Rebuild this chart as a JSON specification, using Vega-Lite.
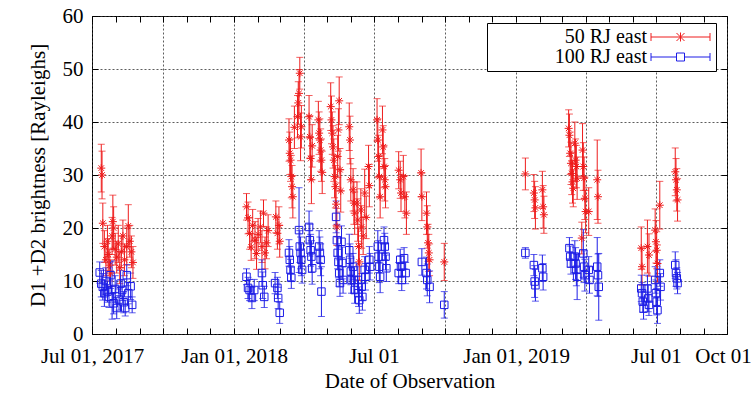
{
 "$schema": "https://vega.github.io/schema/vega-lite/v6.json",
 "width": 635,
 "height": 318,
 "autosize": {"type": "none"},
 "padding": {"left": 92, "top": 16, "right": 27, "bottom": 67},
 "background": "white",
 "config": {
  "view": {"stroke": "#000", "strokeWidth": 1},
  "font": "Liberation Serif",
  "axis": {"labelFont": "Liberation Serif", "titleFont": "Liberation Serif", "labelFontSize": 21, "titleFontSize": 21, "titleFontWeight": "normal", "labelColor": "#000", "titleColor": "#000", "domain": false, "tickColor": "#000", "tickSize": -6, "tickWidth": 1, "gridColor": "#333", "gridDash": [2, 2], "gridWidth": 0.8, "labelOverlap": false, "labelFlush": false, "labelBound": false}
 },
 "data": {"values": [
  {"series":"50 RJ east","d":"2017-07-13","v":31.3,"e":4.5},
  {"series":"50 RJ east","d":"2017-07-14","v":30.0,"e":4.5},
  {"series":"50 RJ east","d":"2017-07-15","v":20.9,"e":3.8},
  {"series":"50 RJ east","d":"2017-07-17","v":16.5,"e":3},
  {"series":"50 RJ east","d":"2017-07-19","v":14.0,"e":3},
  {"series":"50 RJ east","d":"2017-07-21","v":17.5,"e":3},
  {"series":"50 RJ east","d":"2017-07-22","v":15.0,"e":3},
  {"series":"50 RJ east","d":"2017-07-24","v":13.0,"e":3},
  {"series":"50 RJ east","d":"2017-07-25","v":11.5,"e":2.5},
  {"series":"50 RJ east","d":"2017-07-27","v":18.5,"e":3.5},
  {"series":"50 RJ east","d":"2017-07-28","v":21.2,"e":5},
  {"series":"50 RJ east","d":"2017-07-29","v":20.0,"e":4},
  {"series":"50 RJ east","d":"2017-07-31","v":16.0,"e":3},
  {"series":"50 RJ east","d":"2017-08-02","v":14.5,"e":3},
  {"series":"50 RJ east","d":"2017-08-04","v":17.0,"e":3.5},
  {"series":"50 RJ east","d":"2017-08-06","v":12.5,"e":3},
  {"series":"50 RJ east","d":"2017-08-08","v":15.5,"e":3},
  {"series":"50 RJ east","d":"2017-08-10","v":18.5,"e":3},
  {"series":"50 RJ east","d":"2017-08-12","v":14.0,"e":3},
  {"series":"50 RJ east","d":"2017-08-15","v":16.5,"e":3.5},
  {"series":"50 RJ east","d":"2017-08-17","v":20.4,"e":4},
  {"series":"50 RJ east","d":"2017-08-19","v":17.5,"e":3},
  {"series":"50 RJ east","d":"2017-08-21","v":15.5,"e":3},
  {"series":"50 RJ east","d":"2017-08-23","v":13.5,"e":3},
  {"series":"50 RJ east","d":"2018-01-17","v":24.0,"e":2.5},
  {"series":"50 RJ east","d":"2018-01-19","v":21.9,"e":3},
  {"series":"50 RJ east","d":"2018-01-21","v":19.0,"e":3},
  {"series":"50 RJ east","d":"2018-01-23","v":16.4,"e":2.5},
  {"series":"50 RJ east","d":"2018-01-25","v":20.5,"e":3},
  {"series":"50 RJ east","d":"2018-01-28","v":17.7,"e":3.5},
  {"series":"50 RJ east","d":"2018-01-30","v":15.2,"e":3},
  {"series":"50 RJ east","d":"2018-02-01","v":18.8,"e":3},
  {"series":"50 RJ east","d":"2018-02-04","v":20.2,"e":3},
  {"series":"50 RJ east","d":"2018-02-06","v":16.5,"e":3},
  {"series":"50 RJ east","d":"2018-02-08","v":22.8,"e":2.5},
  {"series":"50 RJ east","d":"2018-02-10","v":15.3,"e":3},
  {"series":"50 RJ east","d":"2018-02-12","v":17.2,"e":3},
  {"series":"50 RJ east","d":"2018-02-14","v":19.5,"e":3},
  {"series":"50 RJ east","d":"2018-02-24","v":22.1,"e":3},
  {"series":"50 RJ east","d":"2018-02-26","v":19.0,"e":3},
  {"series":"50 RJ east","d":"2018-02-28","v":20.5,"e":3.5},
  {"series":"50 RJ east","d":"2018-03-01","v":17.5,"e":3},
  {"series":"50 RJ east","d":"2018-03-13","v":36.6,"e":4},
  {"series":"50 RJ east","d":"2018-03-14","v":34.1,"e":4},
  {"series":"50 RJ east","d":"2018-03-15","v":32.8,"e":4},
  {"series":"50 RJ east","d":"2018-03-16","v":29.7,"e":4},
  {"series":"50 RJ east","d":"2018-03-17","v":27.8,"e":4},
  {"series":"50 RJ east","d":"2018-03-18","v":25.9,"e":4},
  {"series":"50 RJ east","d":"2018-03-20","v":39.0,"e":4},
  {"series":"50 RJ east","d":"2018-03-24","v":41.0,"e":4},
  {"series":"50 RJ east","d":"2018-03-25","v":43.6,"e":4},
  {"series":"50 RJ east","d":"2018-03-26","v":45.4,"e":4.5},
  {"series":"50 RJ east","d":"2018-03-27","v":49.2,"e":3},
  {"series":"50 RJ east","d":"2018-03-28","v":37.2,"e":4.5},
  {"series":"50 RJ east","d":"2018-03-29","v":39.1,"e":4},
  {"series":"50 RJ east","d":"2018-04-08","v":41.0,"e":4},
  {"series":"50 RJ east","d":"2018-04-09","v":37.2,"e":4},
  {"series":"50 RJ east","d":"2018-04-10","v":33.1,"e":4},
  {"series":"50 RJ east","d":"2018-04-11","v":29.1,"e":4.5},
  {"series":"50 RJ east","d":"2018-04-12","v":35.5,"e":4},
  {"series":"50 RJ east","d":"2018-04-20","v":40.4,"e":3.5},
  {"series":"50 RJ east","d":"2018-04-21","v":37.9,"e":4},
  {"series":"50 RJ east","d":"2018-04-22","v":36.6,"e":4},
  {"series":"50 RJ east","d":"2018-04-23","v":34.7,"e":4},
  {"series":"50 RJ east","d":"2018-04-24","v":32.8,"e":4},
  {"series":"50 RJ east","d":"2018-04-25","v":30.5,"e":4},
  {"series":"50 RJ east","d":"2018-05-06","v":42.9,"e":4.5},
  {"series":"50 RJ east","d":"2018-05-07","v":40.4,"e":4.5},
  {"series":"50 RJ east","d":"2018-05-08","v":37.9,"e":4},
  {"series":"50 RJ east","d":"2018-05-09","v":35.3,"e":4},
  {"series":"50 RJ east","d":"2018-05-10","v":32.8,"e":4},
  {"series":"50 RJ east","d":"2018-05-11","v":29.7,"e":4},
  {"series":"50 RJ east","d":"2018-05-12","v":27.8,"e":4},
  {"series":"50 RJ east","d":"2018-05-13","v":24.5,"e":4},
  {"series":"50 RJ east","d":"2018-05-14","v":20.2,"e":3.5},
  {"series":"50 RJ east","d":"2018-05-15","v":33.5,"e":4},
  {"series":"50 RJ east","d":"2018-05-16","v":38.5,"e":4},
  {"series":"50 RJ east","d":"2018-05-17","v":44.0,"e":4.5},
  {"series":"50 RJ east","d":"2018-05-18","v":31.0,"e":4},
  {"series":"50 RJ east","d":"2018-05-19","v":27.0,"e":4},
  {"series":"50 RJ east","d":"2018-05-30","v":39.1,"e":4.5},
  {"series":"50 RJ east","d":"2018-05-31","v":36.6,"e":4.5},
  {"series":"50 RJ east","d":"2018-06-01","v":29.1,"e":4},
  {"series":"50 RJ east","d":"2018-06-04","v":27.2,"e":4},
  {"series":"50 RJ east","d":"2018-06-05","v":24.7,"e":4},
  {"series":"50 RJ east","d":"2018-06-06","v":22.8,"e":4},
  {"series":"50 RJ east","d":"2018-06-09","v":24.7,"e":4},
  {"series":"50 RJ east","d":"2018-06-10","v":21.5,"e":4},
  {"series":"50 RJ east","d":"2018-06-11","v":16.5,"e":3.5},
  {"series":"50 RJ east","d":"2018-06-12","v":13.6,"e":3.5},
  {"series":"50 RJ east","d":"2018-06-14","v":23.4,"e":4},
  {"series":"50 RJ east","d":"2018-06-15","v":20.2,"e":4},
  {"series":"50 RJ east","d":"2018-06-17","v":18.5,"e":3.5},
  {"series":"50 RJ east","d":"2018-06-19","v":26.6,"e":4.5},
  {"series":"50 RJ east","d":"2018-06-21","v":22.0,"e":4},
  {"series":"50 RJ east","d":"2018-06-24","v":31.6,"e":4},
  {"series":"50 RJ east","d":"2018-06-25","v":28.0,"e":4},
  {"series":"50 RJ east","d":"2018-07-05","v":40.4,"e":4},
  {"series":"50 RJ east","d":"2018-07-06","v":36.6,"e":4},
  {"series":"50 RJ east","d":"2018-07-07","v":33.5,"e":4},
  {"series":"50 RJ east","d":"2018-07-08","v":29.7,"e":4},
  {"series":"50 RJ east","d":"2018-07-09","v":25.9,"e":4},
  {"series":"50 RJ east","d":"2018-07-12","v":38.5,"e":4.5},
  {"series":"50 RJ east","d":"2018-07-13","v":35.3,"e":4},
  {"series":"50 RJ east","d":"2018-07-14","v":31.6,"e":4},
  {"series":"50 RJ east","d":"2018-07-15","v":29.1,"e":4},
  {"series":"50 RJ east","d":"2018-07-16","v":27.8,"e":4},
  {"series":"50 RJ east","d":"2018-08-02","v":30.9,"e":3.5},
  {"series":"50 RJ east","d":"2018-08-04","v":29.1,"e":3.5},
  {"series":"50 RJ east","d":"2018-08-05","v":26.6,"e":3.5},
  {"series":"50 RJ east","d":"2018-08-08","v":29.7,"e":4},
  {"series":"50 RJ east","d":"2018-08-10","v":25.9,"e":4},
  {"series":"50 RJ east","d":"2018-08-12","v":22.8,"e":4},
  {"series":"50 RJ east","d":"2018-08-31","v":30.4,"e":4.5},
  {"series":"50 RJ east","d":"2018-09-01","v":25.9,"e":4.5},
  {"series":"50 RJ east","d":"2018-09-07","v":22.8,"e":4},
  {"series":"50 RJ east","d":"2018-09-08","v":20.2,"e":4},
  {"series":"50 RJ east","d":"2018-09-09","v":17.2,"e":3.5},
  {"series":"50 RJ east","d":"2018-09-10","v":15.3,"e":3.5},
  {"series":"50 RJ east","d":"2018-09-11","v":14.0,"e":3},
  {"series":"50 RJ east","d":"2018-09-30","v":13.6,"e":3.5},
  {"series":"50 RJ east","d":"2019-01-13","v":30.2,"e":3},
  {"series":"50 RJ east","d":"2019-01-24","v":26.6,"e":3.5},
  {"series":"50 RJ east","d":"2019-01-25","v":25.3,"e":3.5},
  {"series":"50 RJ east","d":"2019-01-26","v":23.8,"e":4},
  {"series":"50 RJ east","d":"2019-02-04","v":27.2,"e":3.5},
  {"series":"50 RJ east","d":"2019-02-05","v":24.0,"e":4},
  {"series":"50 RJ east","d":"2019-02-06","v":22.5,"e":3.5},
  {"series":"50 RJ east","d":"2019-03-10","v":38.8,"e":3.5},
  {"series":"50 RJ east","d":"2019-03-11","v":37.5,"e":4},
  {"series":"50 RJ east","d":"2019-03-12","v":34.1,"e":4},
  {"series":"50 RJ east","d":"2019-03-13","v":32.2,"e":4},
  {"series":"50 RJ east","d":"2019-03-14","v":30.3,"e":4},
  {"series":"50 RJ east","d":"2019-03-15","v":28.7,"e":4},
  {"series":"50 RJ east","d":"2019-03-16","v":27.5,"e":3.5},
  {"series":"50 RJ east","d":"2019-03-18","v":36.0,"e":4},
  {"series":"50 RJ east","d":"2019-03-19","v":32.8,"e":4},
  {"series":"50 RJ east","d":"2019-03-20","v":31.6,"e":4},
  {"series":"50 RJ east","d":"2019-03-21","v":29.4,"e":4},
  {"series":"50 RJ east","d":"2019-03-27","v":18.1,"e":3},
  {"series":"50 RJ east","d":"2019-03-28","v":34.7,"e":5},
  {"series":"50 RJ east","d":"2019-03-29","v":31.6,"e":4.5},
  {"series":"50 RJ east","d":"2019-03-30","v":29.4,"e":4},
  {"series":"50 RJ east","d":"2019-03-31","v":25.6,"e":4},
  {"series":"50 RJ east","d":"2019-04-01","v":23.1,"e":4},
  {"series":"50 RJ east","d":"2019-04-05","v":23.1,"e":4.5},
  {"series":"50 RJ east","d":"2019-04-16","v":29.1,"e":7.5},
  {"series":"50 RJ east","d":"2019-04-17","v":25.9,"e":5},
  {"series":"50 RJ east","d":"2019-06-12","v":16.2,"e":4},
  {"series":"50 RJ east","d":"2019-06-13","v":12.7,"e":3.5},
  {"series":"50 RJ east","d":"2019-06-20","v":16.5,"e":5},
  {"series":"50 RJ east","d":"2019-06-22","v":14.9,"e":4},
  {"series":"50 RJ east","d":"2019-06-30","v":19.6,"e":4},
  {"series":"50 RJ east","d":"2019-07-01","v":17.4,"e":4},
  {"series":"50 RJ east","d":"2019-07-02","v":15.8,"e":3.5},
  {"series":"50 RJ east","d":"2019-07-03","v":13.3,"e":3.5},
  {"series":"50 RJ east","d":"2019-07-06","v":24.3,"e":4.5},
  {"series":"50 RJ east","d":"2019-07-26","v":30.6,"e":4.5},
  {"series":"50 RJ east","d":"2019-07-27","v":29.1,"e":4},
  {"series":"50 RJ east","d":"2019-07-28","v":27.2,"e":4},
  {"series":"50 RJ east","d":"2019-07-29","v":25.3,"e":4},
  {"series":"100 RJ east","d":"2017-07-11","v":11.6,"e":2},
  {"series":"100 RJ east","d":"2017-07-13","v":9.5,"e":2.5},
  {"series":"100 RJ east","d":"2017-07-15","v":8.9,"e":2.5},
  {"series":"100 RJ east","d":"2017-07-17","v":7.7,"e":2.5},
  {"series":"100 RJ east","d":"2017-07-19","v":10.0,"e":2.5},
  {"series":"100 RJ east","d":"2017-07-21","v":8.0,"e":2},
  {"series":"100 RJ east","d":"2017-07-23","v":7.0,"e":2},
  {"series":"100 RJ east","d":"2017-07-25","v":11.1,"e":2.5},
  {"series":"100 RJ east","d":"2017-07-27","v":8.3,"e":5.5},
  {"series":"100 RJ east","d":"2017-07-29","v":5.8,"e":2},
  {"series":"100 RJ east","d":"2017-07-31","v":8.5,"e":2.5},
  {"series":"100 RJ east","d":"2017-08-02","v":4.9,"e":2},
  {"series":"100 RJ east","d":"2017-08-05","v":6.5,"e":2},
  {"series":"100 RJ east","d":"2017-08-07","v":9.5,"e":2.5},
  {"series":"100 RJ east","d":"2017-08-09","v":8.3,"e":2},
  {"series":"100 RJ east","d":"2017-08-11","v":6.0,"e":2},
  {"series":"100 RJ east","d":"2017-08-13","v":4.9,"e":1.5},
  {"series":"100 RJ east","d":"2017-08-15","v":11.1,"e":2},
  {"series":"100 RJ east","d":"2017-08-17","v":7.7,"e":2},
  {"series":"100 RJ east","d":"2017-08-20","v":9.0,"e":2.5},
  {"series":"100 RJ east","d":"2017-08-22","v":5.5,"e":1.5},
  {"series":"100 RJ east","d":"2018-01-17","v":10.8,"e":1.5},
  {"series":"100 RJ east","d":"2018-01-19","v":8.7,"e":2},
  {"series":"100 RJ east","d":"2018-01-21","v":8.3,"e":2},
  {"series":"100 RJ east","d":"2018-01-24","v":6.8,"e":2},
  {"series":"100 RJ east","d":"2018-01-27","v":8.3,"e":2},
  {"series":"100 RJ east","d":"2018-02-06","v":11.5,"e":2.5},
  {"series":"100 RJ east","d":"2018-02-07","v":9.2,"e":2.5},
  {"series":"100 RJ east","d":"2018-02-09","v":7.0,"e":2},
  {"series":"100 RJ east","d":"2018-02-23","v":9.6,"e":2},
  {"series":"100 RJ east","d":"2018-02-26","v":8.7,"e":2},
  {"series":"100 RJ east","d":"2018-02-27","v":6.8,"e":2},
  {"series":"100 RJ east","d":"2018-03-01","v":4.0,"e":2},
  {"series":"100 RJ east","d":"2018-03-13","v":15.3,"e":2.5},
  {"series":"100 RJ east","d":"2018-03-14","v":14.0,"e":2.5},
  {"series":"100 RJ east","d":"2018-03-15","v":12.1,"e":2},
  {"series":"100 RJ east","d":"2018-03-16","v":10.6,"e":2},
  {"series":"100 RJ east","d":"2018-03-26","v":19.6,"e":8},
  {"series":"100 RJ east","d":"2018-03-27","v":16.5,"e":3},
  {"series":"100 RJ east","d":"2018-03-28","v":15.3,"e":3},
  {"series":"100 RJ east","d":"2018-03-29","v":14.0,"e":3},
  {"series":"100 RJ east","d":"2018-03-30","v":12.1,"e":2.5},
  {"series":"100 RJ east","d":"2018-04-08","v":20.2,"e":3},
  {"series":"100 RJ east","d":"2018-04-09","v":17.7,"e":3},
  {"series":"100 RJ east","d":"2018-04-10","v":15.8,"e":3},
  {"series":"100 RJ east","d":"2018-04-11","v":14.6,"e":3},
  {"series":"100 RJ east","d":"2018-04-12","v":12.4,"e":3},
  {"series":"100 RJ east","d":"2018-04-21","v":16.5,"e":3},
  {"series":"100 RJ east","d":"2018-04-22","v":15.3,"e":3},
  {"series":"100 RJ east","d":"2018-04-23","v":14.0,"e":3},
  {"series":"100 RJ east","d":"2018-04-24","v":8.0,"e":4.7},
  {"series":"100 RJ east","d":"2018-05-13","v":22.1,"e":3},
  {"series":"100 RJ east","d":"2018-05-14","v":17.7,"e":3},
  {"series":"100 RJ east","d":"2018-05-15","v":15.3,"e":3},
  {"series":"100 RJ east","d":"2018-05-16","v":13.6,"e":3},
  {"series":"100 RJ east","d":"2018-05-17","v":11.5,"e":2.5},
  {"series":"100 RJ east","d":"2018-05-18","v":9.6,"e":2.5},
  {"series":"100 RJ east","d":"2018-05-20","v":17.4,"e":3},
  {"series":"100 RJ east","d":"2018-05-21","v":13.4,"e":3},
  {"series":"100 RJ east","d":"2018-05-22","v":10.2,"e":2.5},
  {"series":"100 RJ east","d":"2018-05-30","v":15.8,"e":3},
  {"series":"100 RJ east","d":"2018-05-31","v":14.0,"e":3},
  {"series":"100 RJ east","d":"2018-06-01","v":11.8,"e":2.5},
  {"series":"100 RJ east","d":"2018-06-02","v":10.2,"e":2.5},
  {"series":"100 RJ east","d":"2018-06-04","v":12.7,"e":2.5},
  {"series":"100 RJ east","d":"2018-06-05","v":10.2,"e":2.5},
  {"series":"100 RJ east","d":"2018-06-06","v":8.3,"e":2.5},
  {"series":"100 RJ east","d":"2018-06-10","v":10.2,"e":2.5},
  {"series":"100 RJ east","d":"2018-06-11","v":7.7,"e":2.5},
  {"series":"100 RJ east","d":"2018-06-12","v":6.4,"e":2.5},
  {"series":"100 RJ east","d":"2018-06-15","v":8.9,"e":2.5},
  {"series":"100 RJ east","d":"2018-06-16","v":7.0,"e":2.5},
  {"series":"100 RJ east","d":"2018-06-19","v":12.1,"e":2.5},
  {"series":"100 RJ east","d":"2018-06-20","v":10.8,"e":2.5},
  {"series":"100 RJ east","d":"2018-06-25","v":14.0,"e":2.5},
  {"series":"100 RJ east","d":"2018-06-26","v":12.7,"e":2.5},
  {"series":"100 RJ east","d":"2018-07-06","v":16.5,"e":3},
  {"series":"100 RJ east","d":"2018-07-07","v":14.6,"e":3},
  {"series":"100 RJ east","d":"2018-07-08","v":12.7,"e":3},
  {"series":"100 RJ east","d":"2018-07-09","v":10.8,"e":3},
  {"series":"100 RJ east","d":"2018-07-14","v":17.7,"e":2.5},
  {"series":"100 RJ east","d":"2018-07-15","v":16.5,"e":2.5},
  {"series":"100 RJ east","d":"2018-07-16","v":14.6,"e":2.5},
  {"series":"100 RJ east","d":"2018-07-17","v":12.4,"e":2.5},
  {"series":"100 RJ east","d":"2018-08-02","v":11.5,"e":2},
  {"series":"100 RJ east","d":"2018-08-04","v":14.0,"e":2},
  {"series":"100 RJ east","d":"2018-08-05","v":12.7,"e":2},
  {"series":"100 RJ east","d":"2018-08-06","v":10.2,"e":2},
  {"series":"100 RJ east","d":"2018-08-09","v":14.3,"e":2},
  {"series":"100 RJ east","d":"2018-08-11","v":11.5,"e":2},
  {"series":"100 RJ east","d":"2018-09-01","v":13.6,"e":2.5},
  {"series":"100 RJ east","d":"2018-09-07","v":11.5,"e":3},
  {"series":"100 RJ east","d":"2018-09-08","v":10.2,"e":3},
  {"series":"100 RJ east","d":"2018-09-11","v":8.9,"e":3},
  {"series":"100 RJ east","d":"2018-09-30","v":5.5,"e":2.5},
  {"series":"100 RJ east","d":"2019-01-13","v":15.3,"e":1},
  {"series":"100 RJ east","d":"2019-01-24","v":13.0,"e":2},
  {"series":"100 RJ east","d":"2019-01-25","v":9.9,"e":3},
  {"series":"100 RJ east","d":"2019-01-26","v":9.2,"e":3},
  {"series":"100 RJ east","d":"2019-02-04","v":12.4,"e":2.5},
  {"series":"100 RJ east","d":"2019-02-05","v":10.8,"e":2.5},
  {"series":"100 RJ east","d":"2019-03-11","v":16.2,"e":2},
  {"series":"100 RJ east","d":"2019-03-12","v":14.6,"e":2},
  {"series":"100 RJ east","d":"2019-03-13","v":13.3,"e":2},
  {"series":"100 RJ east","d":"2019-03-18","v":14.6,"e":3},
  {"series":"100 RJ east","d":"2019-03-19","v":13.3,"e":3},
  {"series":"100 RJ east","d":"2019-03-20","v":12.1,"e":3},
  {"series":"100 RJ east","d":"2019-03-21","v":10.8,"e":4.3},
  {"series":"100 RJ east","d":"2019-03-29","v":15.2,"e":4.5},
  {"series":"100 RJ east","d":"2019-03-30","v":12.7,"e":3},
  {"series":"100 RJ east","d":"2019-03-31","v":11.1,"e":3},
  {"series":"100 RJ east","d":"2019-04-05","v":12.1,"e":2.5},
  {"series":"100 RJ east","d":"2019-04-06","v":10.2,"e":2.5},
  {"series":"100 RJ east","d":"2019-04-16","v":12.7,"e":5.5},
  {"series":"100 RJ east","d":"2019-04-17","v":11.1,"e":4},
  {"series":"100 RJ east","d":"2019-04-18","v":8.9,"e":6.3},
  {"series":"100 RJ east","d":"2019-06-12","v":8.6,"e":2.5},
  {"series":"100 RJ east","d":"2019-06-13","v":7.7,"e":2},
  {"series":"100 RJ east","d":"2019-06-14","v":6.1,"e":2},
  {"series":"100 RJ east","d":"2019-06-15","v":4.8,"e":2},
  {"series":"100 RJ east","d":"2019-06-20","v":8.6,"e":2.5},
  {"series":"100 RJ east","d":"2019-06-21","v":6.7,"e":2.5},
  {"series":"100 RJ east","d":"2019-06-22","v":5.5,"e":2},
  {"series":"100 RJ east","d":"2019-06-30","v":10.2,"e":2.5},
  {"series":"100 RJ east","d":"2019-07-01","v":7.7,"e":2.5},
  {"series":"100 RJ east","d":"2019-07-02","v":6.1,"e":2.5},
  {"series":"100 RJ east","d":"2019-07-03","v":4.5,"e":2.5},
  {"series":"100 RJ east","d":"2019-07-06","v":11.5,"e":2.5},
  {"series":"100 RJ east","d":"2019-07-07","v":8.9,"e":2.5},
  {"series":"100 RJ east","d":"2019-07-26","v":13.0,"e":2.5},
  {"series":"100 RJ east","d":"2019-07-27","v":11.5,"e":2.5},
  {"series":"100 RJ east","d":"2019-07-28","v":10.5,"e":2},
  {"series":"100 RJ east","d":"2019-07-29","v":9.6,"e":2}
 ]},
 "resolve": {"axis": {"x": "independent", "y": "independent"}, "scale": {"shape": "independent"}, "legend": {"color": "independent", "shape": "independent"}},
 "layer": [
  {
   "mark": {"type": "errorbar", "ticks": {"size": 7, "thickness": 1}, "thickness": 1},
   "encoding": {
    "x": {"field": "d", "type": "temporal", "title": "Date of Observation",
      "scale": {"type": "utc", "nice": false, "domain": [{"year": 2017, "month": 7, "date": 1, "utc": true}, {"year": 2019, "month": 10, "date": 1, "utc": true}]},
      "axis": {"orient": "bottom", "tickCount": {"interval": "month", "step": 1}, "grid": true,
        "gridOpacity": {"condition": {"test": "utcmonth(datum.value) % 3 == 0", "value": 1}, "value": 0},
        "labelOffset": {"condition": {"test": "utcyear(datum.value) == 2019 && utcmonth(datum.value) == 9", "value": -4}, "value": 0},
        "labelPadding": 17, "titlePadding": 4,
        "labelExpr": "utcFormat(datum.value,'%Y-%m')=='2017-07' ? 'Jul 01, 2017' : utcFormat(datum.value,'%Y-%m')=='2018-01' ? 'Jan 01, 2018' : utcFormat(datum.value,'%Y-%m')=='2018-07' ? 'Jul 01' : utcFormat(datum.value,'%Y-%m')=='2019-01' ? 'Jan 01, 2019' : utcFormat(datum.value,'%Y-%m')=='2019-07' ? 'Jul 01' : utcFormat(datum.value,'%Y-%m')=='2019-10' ? 'Oct 01' : ''"}},
    "y": {"field": "v", "type": "quantitative", "title": "D1 +D2 brightness [Rayleighs]",
      "scale": {"domain": [0, 60], "nice": false},
      "axis": {"orient": "left", "values": [0, 10, 20, 30, 40, 50, 60], "grid": true, "labelPadding": 15, "titlePadding": 14}},
    "yError": {"field": "e"},
    "color": {"field": "series", "type": "nominal", "scale": {"domain": ["50 RJ east", "100 RJ east"], "range": ["#ee1c1c", "#1c1ce6"]}, "legend": null}
   }
  },
  {
   "transform": [{"filter": "datum.series == '50 RJ east'"}],
   "mark": {"type": "point", "shape": "M-1,0H1M0,-1V1M-0.7,-0.7L0.7,0.7M-0.7,0.7L0.7,-0.7", "filled": false, "size": 64, "strokeWidth": 1, "color": "#ee1c1c", "opacity": 1},
   "encoding": {
    "x": {"field": "d", "type": "temporal", "scale": {"type": "utc"},
      "axis": {"orient": "top", "tickCount": {"interval": "month", "step": 1}, "labels": false, "grid": false, "title": null}},
    "y": {"field": "v", "type": "quantitative",
      "axis": {"orient": "right", "values": [0, 10, 20, 30, 40, 50, 60], "labels": false, "grid": false, "title": null}}
   }
  },
  {
   "transform": [{"filter": "datum.series == '100 RJ east'"}],
   "mark": {"type": "point", "shape": "square", "filled": false, "size": 56, "strokeWidth": 1, "color": "#1c1ce6", "opacity": 1},
   "encoding": {
    "x": {"field": "d", "type": "temporal", "scale": {"type": "utc"}, "axis": null},
    "y": {"field": "v", "type": "quantitative", "axis": null}
   }
  },
  {
   "transform": [{"filter": "false"}],
   "mark": {"type": "point", "filled": false, "opacity": 1},
   "encoding": {
    "color": {"field": "series", "type": "nominal",
      "legend": {"orient": "none", "legendX": 395, "legendY": 7, "title": null, "symbolSize": 4, "symbolStrokeWidth": 1, "labelAlign": "right", "labelOffset": 136, "labelFont": "Liberation Serif", "labelFontSize": 20, "labelColor": "#000", "padding": 4, "rowPadding": 0, "strokeColor": "#000", "fillColor": "#fff", "labelLimit": 300}},
    "shape": {"field": "series", "type": "nominal",
      "scale": {"domain": ["50 RJ east", "100 RJ east"], "range": ["M150,0H209M150,-4V4M209,-4V4M175.5,-4L183.5,4M175.5,4L183.5,-4M179.5,-4.5V4.5", "M150,0H175.5M183.5,0H209M150,-4V4M209,-4V4M175.5,-4H183.5V4H175.5Z"]},
      "legend": {"orient": "none", "legendX": 395, "legendY": 7, "title": null, "symbolSize": 4, "symbolStrokeWidth": 1, "labelAlign": "right", "labelOffset": 136, "labelFont": "Liberation Serif", "labelFontSize": 20, "labelColor": "#000", "padding": 4, "rowPadding": 0, "strokeColor": "#000", "fillColor": "#fff", "labelLimit": 300}}
   }
  }
 ]
}
